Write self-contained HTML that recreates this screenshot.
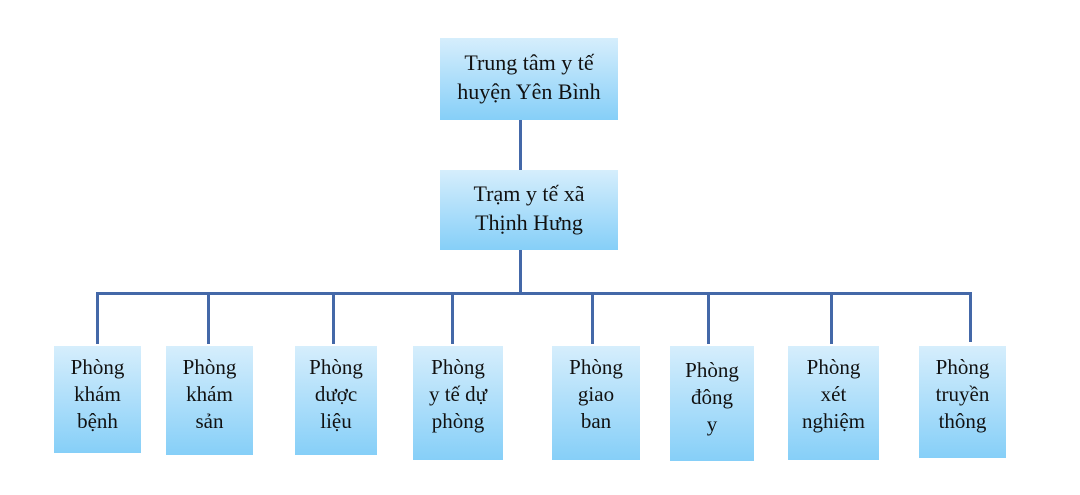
<!DOCTYPE html>
<html><head><meta charset="utf-8"><style>
body{margin:0;width:1080px;height:495px;background:#fff;position:relative;overflow:hidden;font-family:"Liberation Serif",serif;color:#111}
.b{position:absolute;background:linear-gradient(#d6eefc,#86cff8);text-align:center;font-size:21px;line-height:27px;box-sizing:border-box;padding-top:8px}
.t{font-size:22px;line-height:29px}
.l{position:absolute;background:#4468a8}
</style></head><body>
<div class="b t" style="left:440px;top:38px;width:178px;height:82px;padding-top:10px">Trung tâm y tế<br>huyện Yên Bình</div>
<div class="b t" style="left:440px;top:170px;width:178px;height:80px;padding-top:9px">Trạm y tế xã<br>Thịnh Hưng</div>
<div class="l" style="left:519px;top:120px;width:3px;height:50px"></div>
<div class="l" style="left:519px;top:250px;width:3px;height:44px"></div>
<div class="l" style="left:96px;top:292px;width:876px;height:3px"></div>
<div class="l" style="left:96px;top:292px;width:3px;height:52px"></div>
<div class="l" style="left:207px;top:292px;width:3px;height:52px"></div>
<div class="l" style="left:332px;top:292px;width:3px;height:52px"></div>
<div class="l" style="left:451px;top:292px;width:3px;height:52px"></div>
<div class="l" style="left:591px;top:292px;width:3px;height:52px"></div>
<div class="l" style="left:707px;top:292px;width:3px;height:52px"></div>
<div class="l" style="left:830px;top:292px;width:3px;height:52px"></div>
<div class="l" style="left:969px;top:292px;width:3px;height:50px"></div>
<div class="b" style="left:54px;top:346px;width:87px;height:107px">Phòng<br>khám<br>bệnh</div>
<div class="b" style="left:166px;top:346px;width:87px;height:109px">Phòng<br>khám<br>sản</div>
<div class="b" style="left:295px;top:346px;width:82px;height:109px">Phòng<br>dược<br>liệu</div>
<div class="b" style="left:413px;top:346px;width:90px;height:114px">Phòng<br>y tế dự<br>phòng</div>
<div class="b" style="left:552px;top:346px;width:88px;height:114px">Phòng<br>giao<br>ban</div>
<div class="b" style="left:670px;top:346px;width:84px;height:115px;padding-top:11px">Phòng<br>đông<br>y</div>
<div class="b" style="left:788px;top:346px;width:91px;height:114px">Phòng<br>xét<br>nghiệm</div>
<div class="b" style="left:919px;top:346px;width:87px;height:112px">Phòng<br>truyền<br>thông</div>
</body></html>
